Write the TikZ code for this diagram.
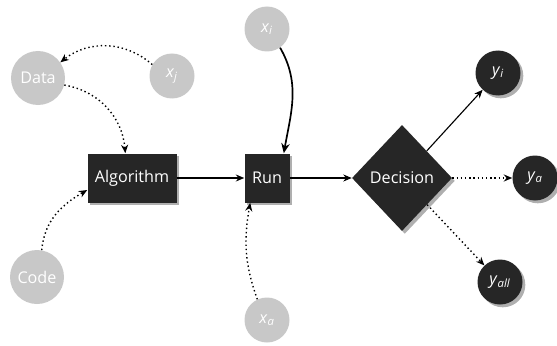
\documentclass[tikz,border=0pt]{standalone}
\usepackage{fontspec}
\setmainfont{Open Sans}
\usepackage{tikz}
\usetikzlibrary{positioning, shapes.geometric, arrows.meta, shadows}

\definecolor{inputgray}{RGB}{200,200,200}
\definecolor{darkbox}{RGB}{38,38,38}
\definecolor{shadowgray}{RGB}{175,175,175}

\newcommand{\var}[2]{\textit{#1}\textsubscript{\textit{#2}}}

\begin{document}
\begin{tikzpicture}[
                font=\fontsize{11.5}{13}\selectfont,
                input_node/.style={circle, fill=inputgray, text=white, inner sep=0pt},
                dark_shadow/.style={drop shadow={shadow xshift=2pt, shadow yshift=-2pt, fill=shadowgray, opacity=1}},
                proc_node/.style={rectangle, fill=darkbox, text=white, inner sep=0pt, minimum height=1.225cm, dark_shadow},
                out_node/.style={circle, fill=darkbox, text=white, inner sep=0pt, minimum size=1.125cm, dark_shadow},
                solid_flow/.style={-{Stealth[length=6pt, width=5pt]}, line width=0.8pt},
                dot_flow/.style={-{Stealth[length=6pt, width=5pt]}, line width=1pt, dotted}
            ]
                \useasboundingbox (0,0) rectangle (13.925,8.625);

                % Inputs
                \node[input_node, minimum size=1.35cm] (data) at (0.95,6.675) {Data};
                \node[input_node, minimum size=1.125cm] (xj) at (4.3,6.725) {\var{x}{j}};
                \node[input_node, minimum size=1.125cm] (xi) at (6.675,7.9) {\var{x}{i}};
                \node[input_node, minimum size=1.35cm] (code) at (0.925,1.7) {Code};
                \node[input_node, minimum size=1.125cm] (xa) at (6.675,0.625) {\var{x}{a}};

                % Main chain
                \node[proc_node, minimum width=2.225cm] (algo) at (3.3,4.175) {Algorithm};
                \node[proc_node, minimum width=1.125cm] (run) at (6.675,4.175) {Run};
                \node[diamond, fill=darkbox, text=white, inner sep=0pt, minimum width=2.5cm, minimum height=2.65cm, dark_shadow] (decision) at (10.05,4.175) {Decision};

                % Outputs
                \node[out_node] (yi) at (12.45,6.8) {\var{y}{i}};
                \node[out_node] (ya) at (13.375,4.175) {\var{y}{a}};
                \node[out_node] (yall) at (12.5,1.575) {\var{y}{all}};

                \draw[dot_flow] (xj.150) to[bend right=40] (data.35);
                \draw[dot_flow] (data.-15) to[out=-10, in=95] (algo.105);
                \draw[dot_flow] (code.80) to[out=85, in=210] (algo.195);
                \draw[solid_flow] (algo) -- (run);
                \draw[-{Stealth[length=7pt, width=6pt]}, line width=1.2pt] (xi.-55) to[out=-60, in=80] ([xshift=-0.15cm]run.north east);
                \draw[dot_flow] (xa.115) to[out=110, in=-100] ([xshift=0.15cm]run.south west);
                \draw[solid_flow] (run) -- (decision);

                \draw[solid_flow] (decision) -- (yi);
                \draw[dot_flow] (decision) -- (ya);
                \draw[dot_flow] (decision) -- (yall);

            \end{tikzpicture}
\end{document}
